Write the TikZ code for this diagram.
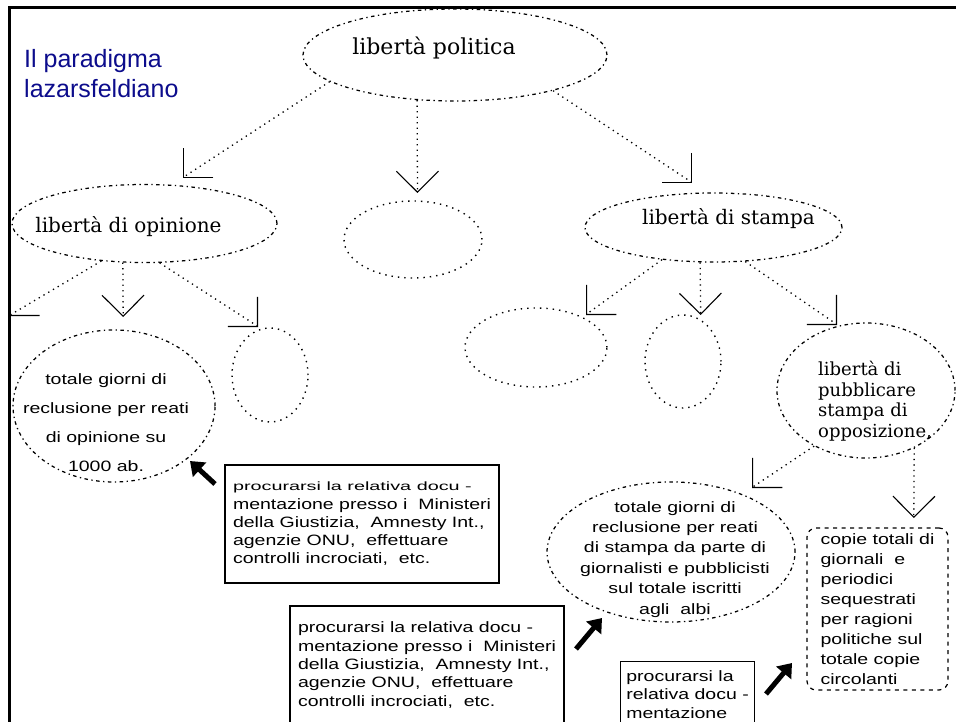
\documentclass[tikz,border=0pt]{standalone}
\usepackage{fontspec}
\usetikzlibrary{arrows.meta,shapes.geometric}
\newfontfamily\serifx{DejaVu Serif}
\newfontfamily\pix{Liberation Sans}[FakeStretch=1.3]
\newfontfamily\pixw{Liberation Sans}[FakeStretch=1.65]
\newfontfamily\titlef{Liberation Sans}
\definecolor{titleblue}{RGB}{12,12,140}
\tikzset{
  lbl/.style={draw, ellipse, inner sep=0pt, line width=1.25pt, dash pattern=on 3.5pt off 3.5pt on 1.3pt off 3.5pt},
  blank/.style={draw, ellipse, inner sep=0pt, line width=1.4pt, dash pattern=on 1.4pt off 5pt},
  conn/.style={line width=1.3pt, dash pattern=on 1.3pt off 4.2pt, -{Straight Barb[length=21pt,width=42pt,line width=1.1pt]}},
  fat/.style={line width=5pt, -{Triangle[length=13pt,width=19pt]}},
  docbox/.style={draw, line width=1.2pt, rectangle, inner sep=0pt, align=left, font=\pix\fontsize{15}{18.3}\selectfont},
  serlbl/.style={inner sep=0pt, font=\serifx\fontsize{20}{24}\selectfont},
  pixtxt/.style={inner sep=0pt, font=\pix\fontsize{15}{18.3}\selectfont},
}
\begin{document}
\begin{tikzpicture}[x=1pt,y=-1pt]
\useasboundingbox (0,0) rectangle (956,722);
\clip (0,0) rectangle (956,722);
\fill[white] (0,0) rectangle (956,722);
% frame
\draw[line width=3pt] (9,740) -- (9,7.5) -- (970,7.5);
% title
\node[anchor=north west, inner sep=0pt, align=left, text=titleblue, font=\titlef\fontsize{25}{30}\selectfont] (title) at (24,49) {Il paradigma\\lazarsfeldiano};
% ellipses
\node[lbl, minimum width=304pt, minimum height=92pt] (pol) at (455,55) {};
\node[lbl, minimum width=265pt, minimum height=78pt] (opin) at (144.5,223.5) {};
\node[blank, minimum width=138pt, minimum height=77pt] (mid) at (413,239.5) {};
\node[lbl, minimum width=257pt, minimum height=69pt] (press) at (713.5,227.5) {};
\node[lbl, minimum width=202pt, minimum height=152pt] (giorni) at (114,406) {};
\node[blank, minimum width=76pt, minimum height=94pt] (opinR) at (270,375) {};
\node[blank, minimum width=142pt, minimum height=79pt] (pressL) at (536,347.5) {};
\node[blank, minimum width=76pt, minimum height=93pt] (pressM) at (683,361.5) {};
\node[lbl, minimum width=178pt, minimum height=135pt] (opp) at (866,390.5) {};
\node[lbl, minimum width=248pt, minimum height=140pt] (stampa) at (671,552) {};
% texts in ellipses
\node[serlbl, font=\serifx\fontsize{22}{26}\selectfont, anchor=base] (polT) at (434,55) {libertà politica};
\node[serlbl, anchor=base] (opinT) at (128.5,233) {libertà di opinione};
\node[serlbl, anchor=base] (pressT) at (728.5,225) {libertà di stampa};
\node[serlbl, font=\serifx\fontsize{18}{20.7}\selectfont, anchor=north west, align=left] (oppT) at (818,361) {libertà di\\pubblicare\\stampa di\\opposizione,};
\node[pixtxt, font=\pix\fontsize{15}{29}\selectfont, align=center, anchor=north] (giorniT) at (106,373) {totale giorni di\\reclusione per reati\\di opinione su\\1000 ab.};
\node[pixtxt, font=\pix\fontsize{15}{20.4}\selectfont, align=center, anchor=north] (stampaT) at (675,501) {totale giorni di\\reclusione per reati\\di stampa da parte di\\giornalisti e pubblicisti\\sul totale iscritti\\agli\ \ albi};
% dashed box
\node[draw, rounded corners=9pt, line width=1.2pt, dash pattern=on 4pt off 4.5pt, minimum width=141pt, minimum height=162pt, inner sep=0pt, align=left, font=\pix\fontsize{15}{20}\selectfont] (copie) at (877.5,609) {copie totali di\\giornali\ \ e\\periodici\\sequestrati\\per ragioni\\politiche sul\\totale copie\\circolanti};
% document boxes
\node[docbox, minimum width=274pt, minimum height=118pt] (doc1) at (362,524) {{\pixw\fontsize{12}{18.3}\selectfont procurarsi la relativa docu -}\\mentazione presso i\ \ Ministeri\\della Giustizia,\ \ Amnesty Int.,\\agenzie ONU,\ \ effettuare\\controlli incrociati,\ \ etc.};
\node[docbox, minimum width=274pt, minimum height=118pt] (doc2) at (427,665) {procurarsi la relativa docu -\\mentazione presso i\ \ Ministeri\\della Giustizia,\ \ Amnesty Int.,\\agenzie ONU,\ \ effettuare\\controlli incrociati,\ \ etc.};
\node[docbox, anchor=north west, inner ysep=9pt, minimum width=134pt] (doc3) at (620,661) {procurarsi la\\relativa docu -\\mentazione};
% arrow tips
\coordinate (tB) at (183,178);
\coordinate (tC) at (417.5,193);
\coordinate (tD) at (692,183);
\coordinate (tL) at (9.5,316);
\coordinate (tE) at (123.2,317);
\coordinate (tK) at (258,327);
\coordinate (tI) at (586,315);
\coordinate (tJ) at (700.7,315);
\coordinate (tG) at (837,325);
\coordinate (tF) at (752,488);
\coordinate (tH) at (913.8,518);
% connectors
\draw[conn] (pol.192) -- ([shift={(1.5,-1.5)}]tB) -- (tB);
\draw[conn] (pol.230) -- (tC);
\draw[conn] (pol.-20) -- ([shift={(-1.5,-1.5)}]tD) -- (tD);
\draw[conn] (opin.221) -- ([shift={(1.5,-1.5)}]tL) -- (tL);
\draw[conn] (opin.241) -- (tE);
\draw[conn] (opin.-69) -- ([shift={(-1.5,-1.5)}]tK) -- (tK);
\draw[conn] (press.212) -- ([shift={(1.5,-1.5)}]tI) -- (tI);
\draw[conn] (press.249.5) -- (tJ);
\draw[conn] (press.-47) -- ([shift={(-1.5,-1.5)}]tG) -- (tG);
\draw[conn] (opp.227) -- ([shift={(1.5,-1.5)}]tF) -- (tF);
\draw[conn] (opp.-50) -- (tH);
% fat arrows
\coordinate (fa1s) at (215,484);
\coordinate (fa1e) at (190,461);
\coordinate (fa2s) at (576,649);
\coordinate (fa2e) at (602,618);
\coordinate (fa3s) at (766,694);
\coordinate (fa3e) at (792,663);
\draw[fat] (fa1s) -- (fa1e);
\draw[fat] (fa2s) -- (fa2e);
\draw[fat] (fa3s) -- (fa3e);
\end{tikzpicture}
\end{document}
